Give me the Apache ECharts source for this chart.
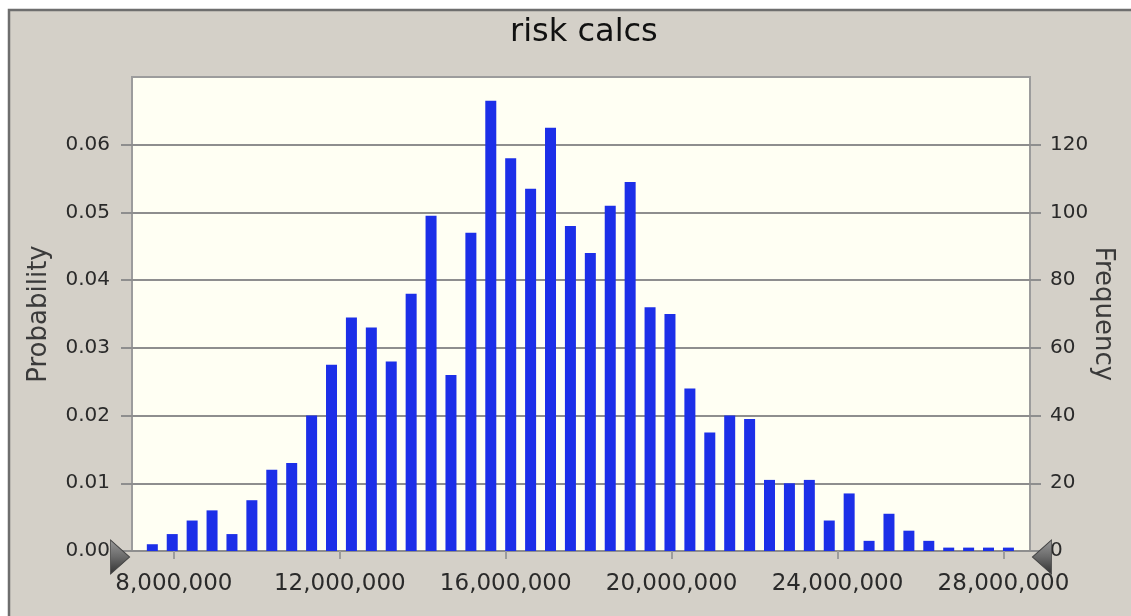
<!DOCTYPE html>
<html>
<head>
<meta charset="utf-8">
<script src="https://cdn.jsdelivr.net/npm/echarts@6/dist/echarts.min.js"></script>
<style>
html,body{margin:0;padding:0;background:#fff;}
#c{width:1131px;height:616px;}
</style>
</head>
<body>
<div id="c"></div>
<script>
// ---- data ----
const titleText = 'risk calcs';
const leftAxisName = 'Probability';
const rightAxisName = 'Frequency';
// bin centres (millions)
const binCentersM = [7.48, 7.96, 8.44, 8.92, 9.40, 9.88, 10.36, 10.84, 11.32, 11.80,
  12.28, 12.76, 13.24, 13.72, 14.20, 14.68, 15.16, 15.64, 16.12, 16.60,
  17.08, 17.56, 18.04, 18.52, 19.00, 19.48, 19.96, 20.44, 20.92, 21.40,
  21.88, 22.36, 22.84, 23.32, 23.80, 24.28, 24.76, 25.24, 25.72, 26.20,
  26.68, 27.16, 27.64, 28.12];
// frequency per bin (2000 trials)
const frequencies = [2, 5, 9, 12, 5, 15, 24, 26, 40, 55,
  69, 66, 56, 76, 99, 52, 94, 133, 116, 107,
  125, 96, 88, 102, 109, 72, 70, 48, 35, 40,
  39, 21, 20, 21, 9, 17, 3, 11, 6, 3,
  1, 1, 1, 1];
const xTicks = [8000000, 12000000, 16000000, 20000000, 24000000, 28000000];
const probTicks = [0, 0.01, 0.02, 0.03, 0.04, 0.05, 0.06];
const freqTicks = [0, 20, 40, 60, 80, 100, 120];
const xMin = 6990000, xMax = 28640000;

const chart = echarts.init(document.getElementById('c'), null, {renderer: 'canvas'});
const withCommas = v => String(Math.round(v)).replace(/\B(?=(\d{3})+(?!\d))/g, ',');
const gridColor = '#8e8e8e';
const font = 'DejaVu Sans';
const triGrad = () => new echarts.graphic.LinearGradient(0, 0, 0, 1, [
  {offset: 0, color: '#9a9a9a'}, {offset: 0.5, color: '#6a6a6a'}, {offset: 1, color: '#303030'}]);

chart.setOption({
  animation: false,
  backgroundColor: '#ffffff',
  graphic: [{
    type: 'rect', z: -10, silent: true,
    shape: {x: 9, y: 10, width: 1200, height: 700},
    style: {fill: '#d4d0c8', stroke: '#6e6e6e', lineWidth: 2.5}
  }],
  title: {
    text: titleText, left: 505, top: 12,
    textStyle: {fontFamily: font, fontSize: 32, fontWeight: 'normal', color: '#111'}
  },
  grid: {
    left: 132, right: 101, top: 77, bottom: 65,
    show: true, backgroundColor: '#fffff3', borderColor: '#9c9c9c', borderWidth: 2
  },
  xAxis: {
    type: 'value', min: xMin, max: xMax,
    axisLine: {show: false},
    splitLine: {show: false},
    axisTick: {show: true, customValues: xTicks, length: 8, lineStyle: {color: '#9c9c9c', width: 2}},
    axisLabel: {customValues: xTicks, formatter: withCommas, margin: 22,
      fontFamily: font, fontSize: 23, color: '#2a2a2a'}
  },
  yAxis: [{
    type: 'value', min: 0, max: 0.07, interval: 0.01, position: 'left',
    name: leftAxisName, nameLocation: 'middle', nameGap: 80, nameMoveOverlap: false,
    nameTextStyle: {fontFamily: font, fontSize: 26, color: '#3a3a3a'},
    axisLine: {show: false},
    splitLine: {show: true, lineStyle: {color: gridColor, width: 2}},
    axisTick: {show: true, customValues: probTicks, length: 11, lineStyle: {color: gridColor, width: 2}},
    axisLabel: {customValues: probTicks, formatter: v => v.toFixed(2), margin: 22,
      fontFamily: font, fontSize: 20, color: '#2a2a2a'}
  }, {
    type: 'value', min: 0, max: 140, interval: 20, position: 'right',
    name: rightAxisName, nameLocation: 'middle', nameGap: 60, nameRotate: -90, nameMoveOverlap: false,
    nameTextStyle: {fontFamily: font, fontSize: 26, color: '#3a3a3a'},
    axisLine: {show: false},
    splitLine: {show: false},
    axisTick: {show: true, customValues: freqTicks, length: 11, lineStyle: {color: gridColor, width: 2}},
    axisLabel: {customValues: freqTicks, margin: 20,
      fontFamily: font, fontSize: 20, color: '#2a2a2a'}
  }],
  series: [{
    type: 'bar', yAxisIndex: 1, barWidth: 11,
    itemStyle: {color: '#1c2fe8'},
    data: binCentersM.map((c, i) => [c * 1e6, frequencies[i]]),
    markPoint: {
      silent: true, label: {show: false}, z: 10,
      data: [
        {coord: [xMin, 0], symbol: 'path://M0,0 L10,10 L0,20 Z', symbolSize: [19, 34],
          symbolOffset: [-12, 6], itemStyle: {color: triGrad(), borderColor: '#444', borderWidth: 1}},
        {coord: [xMax, 0], symbol: 'path://M10,0 L0,10 L10,20 Z', symbolSize: [19, 34],
          symbolOffset: [12, 6], itemStyle: {color: triGrad(), borderColor: '#444', borderWidth: 1}}
      ]
    }
  }]
});
</script>
</body>
</html>
